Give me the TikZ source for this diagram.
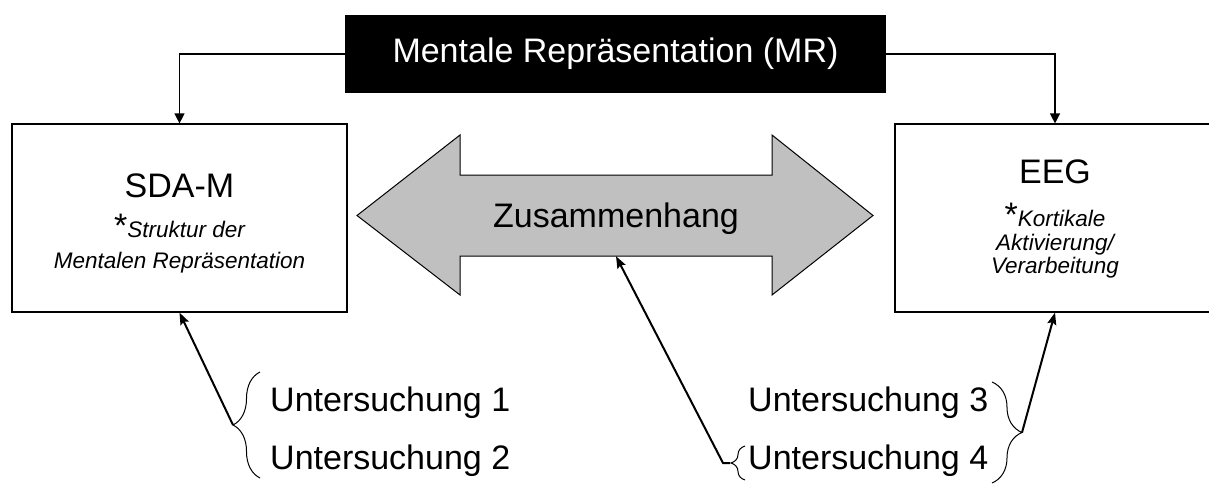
\documentclass[tikz,border=0pt]{standalone}
\usepackage{fontspec}
\setmainfont{Liberation Sans}
\usepackage{xcolor}
\usetikzlibrary{arrows.meta,decorations.pathreplacing}
\definecolor{zusgrey}{RGB}{192,192,192}
\tikzset{
	title/.style={font=\fontsize{34}{40}\selectfont,inner sep=0pt},
	sub/.style={font=\fontsize{22.5}{27}\selectfont\itshape,inner sep=0pt},
	klammer/.style={line width=1pt,decorate,decoration={brace,amplitude=#1}}
}
\newcommand{\stern}{{\fontsize{34}{40}\selectfont\upshape*}}

\begin{document}
\begin{tikzpicture}[x=1pt,y=-1pt]
				\useasboundingbox (0,0) rectangle (1209,485);
				\begin{scope}[every node/.style={draw,line width=1.2pt,inner sep=0pt}]
					\node[fill=black,text=white,font=\fontsize{34}{40}\selectfont,minimum width=539pt,minimum height=76pt] (mr) at (615.5,54) {Mentale Repräsentation (MR)};
					\node[minimum width=335pt,minimum height=188pt] (sda) at (179.5,218) {};
					\node[minimum width=320pt,minimum height=188pt] (eeg) at (1055,218) {};
				\end{scope}
				
				\draw[line width=1pt,fill=zusgrey] (357,215.5) -- (460,135) -- (460,175) -- (772,175) -- (772,135) -- (873,215.5) -- (772,295) -- (772,256) -- (460,256) -- (460,295) -- cycle;
				\node[title,text depth=0pt,minimum width=312pt,minimum height=81pt] (zus) at (616,215.5) {Zusammenhang};
				
				\node[title,anchor=base] (sdat) at (179.5,197) {SDA-M};
				\node[sub,anchor=base] (sdas) at (179.5,237) {\stern Struktur der};
				\node[sub,anchor=base] (sdar) at (179.5,268) {Mentalen Repräsentation};
				
				\node[title,anchor=base] (eegt) at (1055,183) {EEG};
				\node[sub,anchor=base] (eegk) at (1055,226) {\stern Kortikale};
				\node[sub,anchor=base] (eega) at (1055,250) {Aktivierung/};
				\node[sub,anchor=base] (eegv) at (1055,273) {Verarbeitung};
				
				\node[title,anchor=base west] (u1) at (270,411) {Untersuchung 1};
				\node[title,anchor=base west] (u2) at (270,469) {Untersuchung 2};
				\node[title,anchor=base west] (u3) at (748,411) {Untersuchung 3};
				\node[title,anchor=base west] (u4) at (748,469) {Untersuchung 4};
				
				\draw[klammer=27pt] (260,478) -- (260,372);%1,2%
				\draw[klammer=30pt] (992,382) -- (992,483);%3,4%
				\draw[klammer=14pt] (745,480) -- (745,446);%4%
				\coordinate (b12) at (233,425);
				\coordinate (b34) at (1022,432.5);
				\coordinate (b4) at (730,463);
				
				\begin{scope}[>={Triangle[length=10pt,width=10pt]},line width=1.3pt]
					\draw[->] (mr.west) -| (sda.north);
					\draw[->] (mr.east) -| (eeg.north);
				\end{scope}
				
				\begin{scope}[>={Stealth[length=12pt,width=9pt,inset=2pt]},line width=2pt]
					\draw[->] (b12) -- (sda.south);
					\draw[->] (b4) -- (723,463) -- (zus.south);
					\draw[->] (b34) -- (eeg.south);
				\end{scope}
			\end{tikzpicture}
\end{document}
